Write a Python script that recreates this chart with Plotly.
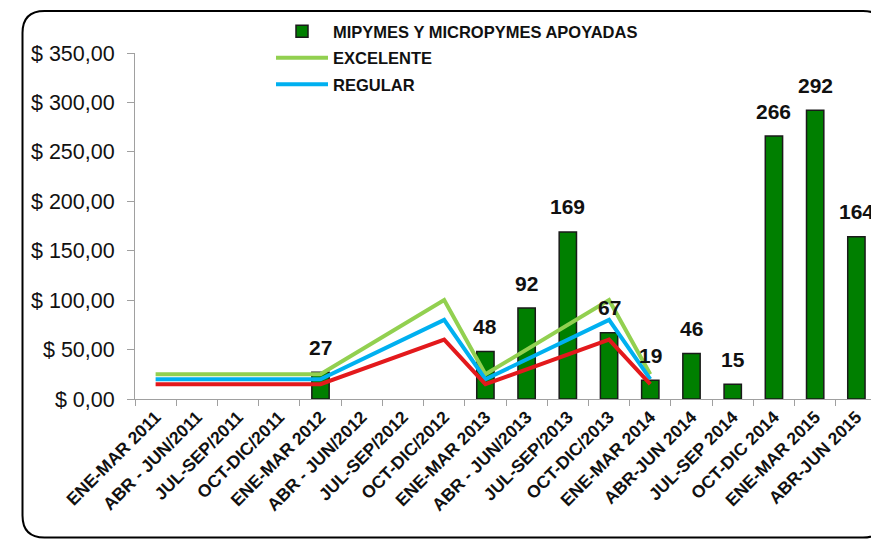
import plotly.graph_objects as go

# ── data ────────────────────────────────────────────────────────────────
periodos = [
    "ENE-MAR 2011", "ABR - JUN/2011", "JUL-SEP/2011", "OCT-DIC/2011",
    "ENE-MAR 2012", "ABR - JUN/2012", "JUL-SEP/2012", "OCT-DIC/2012",
    "ENE-MAR 2013", "ABR - JUN/2013", "JUL-SEP/2013", "OCT-DIC/2013",
    "ENE-MAR 2014", "ABR-JUN 2014", "JUL-SEP 2014", "OCT-DIC 2014",
    "ENE-MAR 2015", "ABR-JUN 2015",
]
mipymes   = [None, None, None, None, 27, None, None, None, 48, 92, 169, 67, 19, 46, 15, 266, 292, 164]
excelente = [25, 25, 25, 25, 25, None, None, 100, 25, None, None, 100, 25, None, None, None, None, None]
regular   = [20, 20, 20, 20, 20, None, None, 80, 20, None, None, 80, 20, None, None, None, None, None]
malo      = [15, 15, 15, 15, 15, None, None, 60, 15, None, None, 60, 15, None, None, None, None, None]

y_ticks = [0, 50, 100, 150, 200, 250, 300, 350]
y_text  = [f"$ {v:,.2f}".replace(".", ",") for v in y_ticks]

# ── layout geometry (page pixels; the plot div sits 8px in from the page corner) ──
OFF = 8
W_PX, H_PX = 879 - OFF, 540 - OFF
M_L, M_R, M_T, M_B = 135 - OFF, 2, 53 - OFF, 141
PW, PH = W_PX - M_L - M_R, H_PX - M_T - M_B


def px_x(x):
    return (x - OFF - M_L) / PW


def px_y(y):
    return (H_PX - M_B - (y - OFF)) / PH


FONT = "Liberation Sans, Arial, sans-serif"

fig = go.Figure()
fig.add_trace(go.Bar(name="<b>MIPYMES Y MICROPYMES APOYADAS</b>", x=periodos, y=mipymes,
                     legendgroup="a",
                     marker=dict(color="#007F00", line=dict(color="#1A1A1A", width=1.5)),
                     width=0.42))
fig.add_trace(go.Scatter(name="<b>EXCELENTE</b>", x=periodos, y=excelente, mode="lines",
                         legendgroup="b",
                         connectgaps=True, line=dict(color="#92D050", width=4)))
fig.add_trace(go.Scatter(name="<b>REGULAR</b>", x=periodos, y=regular, mode="lines",
                         legendgroup="c",
                         connectgaps=True, line=dict(color="#00B0F0", width=4)))
fig.add_trace(go.Scatter(name="MALO", x=periodos, y=malo, mode="lines", showlegend=False,
                         connectgaps=True, line=dict(color="#E3191C", width=4)))

# value labels above the bars
for cat, v in zip(periodos, mipymes):
    if v is None:
        continue
    fig.add_annotation(x=cat, y=v, text=f"<b>{v}</b>", showarrow=False,
                       yanchor="middle", yshift=25,
                       font=dict(size=21, color="#111111", family=FONT))

# rounded outer frame
l, r, t, b, rad = 22.5, 885, 11, 537.5, 22
path = (
    f"M {px_x(l + rad)},{px_y(t)} L {px_x(r - rad)},{px_y(t)} "
    f"Q {px_x(r)},{px_y(t)} {px_x(r)},{px_y(t + rad)} "
    f"L {px_x(r)},{px_y(b - rad)} Q {px_x(r)},{px_y(b)} {px_x(r - rad)},{px_y(b)} "
    f"L {px_x(l + rad)},{px_y(b)} Q {px_x(l)},{px_y(b)} {px_x(l)},{px_y(b - rad)} "
    f"L {px_x(l)},{px_y(t + rad)} Q {px_x(l)},{px_y(t)} {px_x(l + rad)},{px_y(t)} Z"
)
fig.add_shape(type="path", path=path, xref="paper", yref="paper",
              line=dict(color="#000000", width=2), layer="below")

fig.update_layout(
    width=W_PX, height=H_PX,
    plot_bgcolor="#FFFFFF", paper_bgcolor="#FFFFFF",
    font=dict(family=FONT, color="#111111"),
    margin=dict(l=M_L, r=M_R, t=M_T, b=M_B, autoexpand=False),
    showlegend=True,
    legend=dict(x=px_x(271), y=px_y(14), xanchor="left", yanchor="top",
                bgcolor="rgba(0,0,0,0)", font=dict(size=16.5, family=FONT, color="#111111"),
                itemwidth=52, traceorder="grouped", tracegroupgap=2),
    xaxis=dict(range=[-0.5, 17.5], tickangle=-45, tickson="boundaries",
               ticks="outside", ticklen=6, tickcolor="#A0A0A0",
               showline=True, linecolor="#A0A0A0", linewidth=1, showgrid=False,
               tickfont=dict(size=17.5, family=FONT, color="#111111", weight="bold")),
    yaxis=dict(range=[0, 350], tickvals=y_ticks, ticktext=y_text,
               ticks="outside", ticklen=7, tickcolor="#A0A0A0",
               showline=True, linecolor="#A0A0A0", linewidth=1, showgrid=False,
               zeroline=False, ticklabelstandoff=8,
               tickfont=dict(size=21.5, family=FONT, color="#111111")),
)

fig.write_html("out.html")
